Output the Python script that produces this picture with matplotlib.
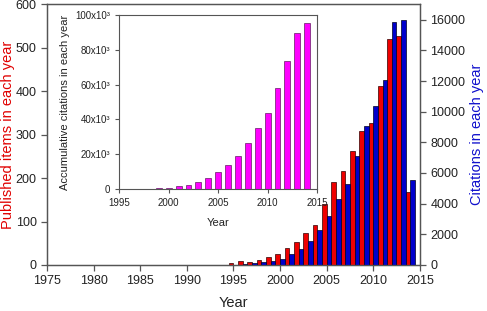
import matplotlib
matplotlib.use("Agg")
import matplotlib.pyplot as plt
import numpy as np

plt.rcParams['font.family'] = ['Liberation Sans', 'DejaVu Sans']

years = list(range(1991, 2015))
published = [1, 1, 1, 1, 5, 9, 7, 11, 19, 25, 38, 53, 73, 93, 140, 192, 216, 263,
             308, 326, 413, 521, 527, 167]
citations = [10, 10, 10, 15, 30, 60, 100, 170, 240, 370, 720, 1020, 1590, 2260,
             3210, 4300, 5250, 7140, 9050, 10360, 12090, 15870, 15960, 5540]

inset_years = list(range(1997, 2015))
accum = [200, 400, 700, 1000, 1700, 2800, 4300, 6500, 9700, 14200, 19300, 26300,
         35300, 43800, 57800, 73700, 89500, 95000]

main_xticks = [1975, 1980, 1985, 1990, 1995, 2000, 2005, 2010, 2015]
left_yticks = [0, 100, 200, 300, 400, 500, 600]
right_yticks = [0, 2000, 4000, 6000, 8000, 10000, 12000, 14000, 16000]
inset_xticks = [1995, 2000, 2005, 2010, 2015]
inset_yticks = [0, 20000, 40000, 60000, 80000, 100000]
inset_ylabels = ['0', '20x10³', '40x10³', '60x10³', '80x10³', '100x10³']

fig = plt.figure(figsize=(4.87, 3.11), dpi=100)
ax = fig.add_axes([0.0965, 0.148, 0.7655, 0.838])
ax2 = ax.twinx()

yr = np.array(years)
ax.bar(yr - 0.25, published, width=0.5, color='#EE0000', edgecolor='#300000', linewidth=0.5)
ax2.bar(yr + 0.25, citations, width=0.5, color='#0000CC', edgecolor='#000020', linewidth=0.5)

ax.set_xlim(1975, 2015)
ax.set_ylim(0, 600)
ax2.set_ylim(0, 17000)
ax.set_xticks(main_xticks)
ax.set_yticks(left_yticks)
ax2.set_yticks(right_yticks)
spine_c = '#555555'
for a in (ax, ax2):
    for s in a.spines.values():
        s.set_color(spine_c)
        s.set_linewidth(0.9)
ax.tick_params(axis='both', direction='out', length=4, width=0.9, color=spine_c, labelsize=9, colors='#222222')
ax2.tick_params(axis='y', direction='out', length=4, width=0.9, color=spine_c, labelsize=9, colors='#222222')
ax.set_xlabel('Year', fontsize=10.5, color='#222222', labelpad=6)
ax.set_ylabel('Published items in each year', fontsize=10.5, color='#E00000')
ax.yaxis.set_label_coords(-0.087, 0.5)
ax2.set_ylabel('Citations in each year', fontsize=10.5, color='#1010CC')
ax2.yaxis.set_label_coords(1.135, 0.5)

# inset
axi = fig.add_axes([0.245, 0.391, 0.406, 0.562])
axi.set_facecolor('white')
axi.bar(inset_years, accum, width=0.6, color='#FF00FF', edgecolor='#400040', linewidth=0.4)
axi.set_xlim(1995, 2015)
axi.set_ylim(0, 100000)
axi.set_xticks(inset_xticks)
axi.set_yticks(inset_yticks)
axi.set_yticklabels(inset_ylabels)
for s in axi.spines.values():
    s.set_color(spine_c)
    s.set_linewidth(0.8)
axi.tick_params(axis='both', direction='out', length=3, width=0.8, color=spine_c, labelsize=7, colors='#222222')
axi.set_xlabel('Year', fontsize=8, color='#222222', labelpad=7)
axi.set_ylabel('Accumulative citations in each year', fontsize=8, color='#222222', labelpad=4)

fig.savefig('out.png', dpi=100)
